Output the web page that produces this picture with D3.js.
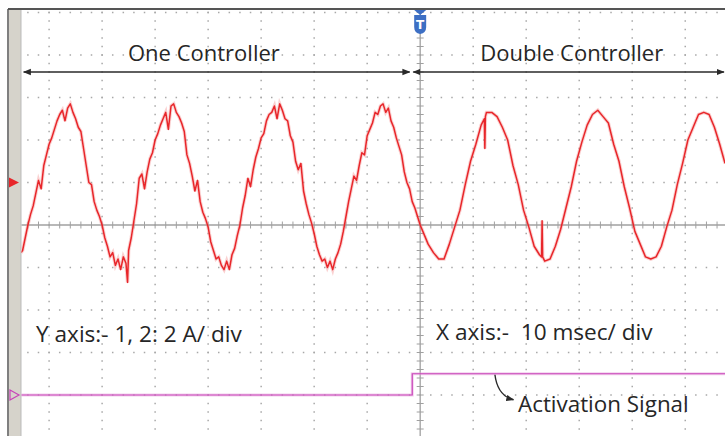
<!DOCTYPE html>
<html lang="en">
<head>
<meta charset="UTF-8">
<title>Controller activation - scope capture</title>
<script src="https://d3js.org/d3.v7.min.js"></script>
<style>
  body { margin: 0; background: #fff; }
  svg { display: block; font-family: "Open Sans", sans-serif; }
</style>
</head>
<body>
<div id="chart"></div>
<script>
// channel 1 current (A), time in ms from trigger
var oneCtrlTime = [-75.3, -75, -74.5, -74, -73.5, -73, -72.5, -72, -71.5, -71, -70.5, -70, -69.5, -69, -68.5, -68, -67.5, -67, -66.5, -66,
    -65.5, -65, -64.5, -64, -63.5, -63, -62.5, -62, -61.5, -61, -60.5, -60, -59.5, -59, -58.5, -58, -57.5, -57, -56.5, -56,
    -55.5, -55.2, -55, -54.5, -54, -53.5, -53, -52.5, -52, -51.5, -51, -50.5, -50, -49.5, -49, -48.5, -48, -47.5, -47, -46.5,
    -46, -45.5, -45, -44.5, -44, -43.5, -43, -42.5, -42, -41.5, -41, -40.5, -40, -39.5, -39, -38.5, -38, -37.5, -37, -36.5,
    -36, -35.5, -35, -34.5, -34, -33.5, -33, -32.5, -32, -31.5, -31, -30.5, -30, -29.5, -29, -28.5, -28, -27.5, -27, -26.5,
    -26, -25.5, -25, -24.5, -24, -23.5, -23, -22.5, -22, -21.5, -21, -20.5, -20, -19.5, -19, -18.5, -18, -17.5, -17, -16.5,
    -16, -15.5, -15, -14.5, -14, -13.5, -13, -12.5, -12, -11.5, -11, -10.5, -10, -9.5, -9, -8.5, -8, -7.5, -7, -6.5,
    -6, -5.5, -5, -4.5, -4, -3.5, -3, -2.5, -2, -1.5, -1, -0.5, 0];
var oneCtrlAmps = [-3.3, -3.2, -2.6, -2.0, -1.5, -1.1, -0.5, 0.1, -0.3, 0.8, 1.3, 1.8, 2.1, 2.5, 2.9, 3.2, 3.4, 2.9, 3.5, 3.7,
    3.3, 3.0, 2.6, 2.4, 1.6, 0.8, 0.0, -0.1, -0.9, -1.3, -1.6, -2.0, -2.6, -3.0, -3.5, -3.3, -3.9, -3.6, -4.1, -3.5,
    -3.8, -4.7, -3.2, -2.6, -1.8, -1.0, 0.2, 0.4, -0.3, 0.5, 1.1, 1.4, 2.0, 2.3, 2.7, 3.0, 3.3, 2.5, 3.6, 3.7,
    3.3, 3.1, 2.8, 2.4, 1.3, 0.9, 0.3, -0.4, 0.1, -0.9, -1.4, -1.7, -2.1, -2.8, -3.2, -3.6, -3.5, -3.9, -4.1, -3.7,
    -4.1, -3.4, -3.1, -2.5, -2.0, -1.2, -0.6, 0.2, -0.2, 0.6, 1.2, 1.6, 2.1, 2.3, 2.9, 3.2, 3.3, 3.6, 3.0, 3.7,
    3.4, 3.0, 2.9, 2.2, 1.9, 1.0, 0.6, 0.9, -0.4, -1.0, -1.5, -1.9, -2.4, -3.0, -3.4, -3.7, -3.6, -4.0, -3.7, -4.1,
    -3.6, -3.3, -2.9, -2.3, -1.6, -0.9, -0.3, 0.3, 0.1, 0.8, 1.4, 1.3, 2.2, 2.5, 2.8, 3.3, 3.2, 3.6, 3.7, 3.3,
    3.5, 2.9, 2.6, 2.1, 1.7, 1.3, 0.5, 0.0, -0.3, -0.9, -1.2, -1.6, -2.0];

var doubleCtrlTime = [0.5, 1.5, 2.5, 3.5, 4.5, 5.5, 6.5, 7.5, 8.5, 9.5, 10.5, 11.5, 12.1, 12.2, 12.3, 12.5, 13.5, 14.5, 15.5, 16.5,
    17.5, 18.5, 19.5, 20.5, 21.5, 22.5, 22.9, 23.0, 23.1, 23.5, 24.5, 25.5, 26.5, 27.5, 28.5, 29.5, 30.5, 31.5, 32.5, 33.5,
    34.5, 35.5, 36.5, 37.5, 38.5, 39.5, 40.5, 41.5, 42.5, 43.5, 44.5, 45.5, 46.5, 47.5, 48.5, 49.5, 50.5, 51.5, 52.5, 53.5,
    54.5, 55.5, 56.5, 57.5];
var doubleCtrlAmps = [-2.3, -2.9, -3.3, -3.6, -3.6, -2.9, -2.1, -1.3, -0.1, 1.0, 1.8, 2.7, 3.0, 1.6, 3.1, 3.3, 3.3, 3.1, 2.6, 2.0,
    0.8, -0.1, -1.3, -2.1, -3.0, -3.4, -3.5, -1.8, -3.5, -3.7, -3.6, -3.0, -2.2, -1.2, -0.2, 1.0, 1.9, 2.7, 3.2, 3.4,
    3.1, 2.8, 1.8, 1.0, -0.2, -1.2, -2.3, -2.9, -3.5, -3.6, -3.5, -3.0, -2.1, -1.3, -0.1, 0.9, 2.0, 2.6, 3.2, 3.3,
    3.2, 2.6, 1.8, 0.9];

// channel 2 activation signal
var actTime = [-75.3, -1.5, -1.5, 57.5];
var actLevel = [0, 0, 1.0, 1.0];

var sectionLabels = ["One Controller", "Double Controller"];
var scaleNotes = ["Y axis:- 1, 2: 2 A/ div", "X axis:-  10 msec/ div"];
var signalNote = "Activation Signal";

var W = 725, H = 436;
var svg = d3.select("#chart").append("svg")
    .attr("width", W)
    .attr("height", H);

var x = d3.scaleLinear().domain([-75.3, 57.5]).range([21, 725]);
var div = d3.scaleLinear().domain([-5, 5]).range([437.5, 12.5]);
var ch1 = function(a) { return div(1 + a / 2); };
var ch2 = function(a) { return div(-4 + a / 2); };

svg.append("rect").attr("width", W).attr("height", H).attr("fill", "#fff");

// scope frame
svg.append("rect").attr("x", 9).attr("y", 10).attr("width", 12).attr("height", H - 10).attr("fill", "#d6d3cb");
svg.append("line").attr("x1", 8).attr("x2", W).attr("y1", 9).attr("y2", 9).attr("stroke", "#555").attr("stroke-width", 2);
svg.append("line").attr("x1", 8).attr("x2", 8).attr("y1", 9).attr("y2", H).attr("stroke", "#555").attr("stroke-width", 1.5);
svg.append("line").attr("x1", 21).attr("x2", 21).attr("y1", 10).attr("y2", H).attr("stroke", "#bbb").attr("stroke-width", 1);

svg.append("defs").append("clipPath").attr("id", "plotclip")
    .append("rect").attr("x", 21.5).attr("y", 10).attr("width", W - 21.5).attr("height", H - 10);

var g = svg.append("g").attr("clip-path", "url(#plotclip)");

// dotted graticule
var majorT = d3.range(-70, 51, 10).filter(function(t) { return t !== 0; });
var majorD = d3.range(-5, 5.01, 1).filter(function(d) { return d !== 0; });
var minorT = d3.range(-74, 58, 2);
var minorD = d3.range(-5, 5.01, 0.2);
var dots = [];
majorT.forEach(function(t) { minorD.forEach(function(d) { dots.push([t, d]); }); });
majorD.forEach(function(d) { minorT.forEach(function(t) { dots.push([t, d]); }); });
g.selectAll(".dot").data(dots).enter().append("rect")
    .attr("class", "dot")
    .attr("x", function(d) { return x(d[0]) - 0.75; })
    .attr("y", function(d) { return div(d[1]) - 0.75; })
    .attr("width", 1.5).attr("height", 1.5)
    .attr("fill", "#a8a8a8");

// centre axes with minor ticks
g.append("line").attr("x1", x(0)).attr("x2", x(0)).attr("y1", 10).attr("y2", H)
    .attr("stroke", "#a0a0a0").attr("stroke-width", 1.3);
g.append("line").attr("x1", 21).attr("x2", W).attr("y1", div(0)).attr("y2", div(0))
    .attr("stroke", "#a0a0a0").attr("stroke-width", 1.3);
g.selectAll(".tx").data(minorT).enter().append("line")
    .attr("x1", function(d) { return x(d); }).attr("x2", function(d) { return x(d); })
    .attr("y1", div(0) - 3.5).attr("y2", div(0) + 3.5)
    .attr("stroke", "#a0a0a0").attr("stroke-width", 1);
g.selectAll(".ty").data(minorD).enter().append("line")
    .attr("x1", x(0) - 3.5).attr("x2", x(0) + 3.5)
    .attr("y1", function(d) { return div(d); }).attr("y2", function(d) { return div(d); })
    .attr("stroke", "#a0a0a0").attr("stroke-width", 1);

// traces
var trace = oneCtrlTime.map(function(t, i) { return [t, oneCtrlAmps[i]]; })
    .concat(doubleCtrlTime.map(function(t, i) { return [t, doubleCtrlAmps[i]]; }));
var line1 = d3.line().x(function(d) { return x(d[0]); }).y(function(d) { return ch1(d[1]); });
g.append("path").datum(trace).attr("d", line1)
    .attr("fill", "none").attr("stroke", "#f07a7a").attr("stroke-width", 3.5).attr("opacity", 0.35);
g.append("path").datum(trace).attr("d", line1)
    .attr("fill", "none").attr("stroke", "#e8262a").attr("stroke-width", 1.5).attr("stroke-linejoin", "round");

var act = actTime.map(function(t, i) { return [t, actLevel[i]]; });
var line2 = d3.line().x(function(d) { return x(d[0]); }).y(function(d) { return ch2(d[1]); });
g.append("path").datum(act).attr("d", line2)
    .attr("fill", "none").attr("stroke", "#e6a0dc").attr("stroke-width", 3).attr("opacity", 0.5);
g.append("path").datum(act).attr("d", line2)
    .attr("fill", "none").attr("stroke", "#c843b8").attr("stroke-width", 1.2);

// channel ground markers
svg.append("path")
    .attr("d", "M9," + (ch1(0) - 5) + "L19," + ch1(0) + "L9," + (ch1(0) + 5) + "Z")
    .attr("fill", "#e8262a");
svg.append("path")
    .attr("d", "M10," + (ch2(0) - 5) + "L19," + ch2(0) + "L10," + (ch2(0) + 5) + "Z")
    .attr("fill", "none").attr("stroke", "#c843b8").attr("stroke-width", 1.2);

// trigger marker
var tx = x(0);
svg.append("path").attr("d", "M" + (tx - 6) + ",10L" + (tx + 6) + ",10L" + tx + ",15Z").attr("fill", "#3d6fc4");
svg.append("path")
    .attr("d", "M" + (tx - 6) + ",15H" + (tx + 6) + "V27Q" + (tx + 6) + ",33 " + tx + ",34Q" + (tx - 6) + ",33 " + (tx - 6) + ",27Z")
    .attr("fill", "#3d6fc4");
svg.append("text").attr("x", tx).attr("y", 29).attr("text-anchor", "middle")
    .attr("font-size", 12).attr("font-weight", "bold").attr("fill", "#fff")
    .style("font-family", "DejaVu Sans, sans-serif").text("T");

// section arrows
var defs = svg.select("defs");
defs.append("marker").attr("id", "head")
    .attr("viewBox", "0 0 10 10").attr("refX", 9).attr("refY", 5)
    .attr("markerWidth", 8).attr("markerHeight", 8).attr("markerUnits", "userSpaceOnUse")
    .attr("orient", "auto-start-reverse")
    .append("path").attr("d", "M0,1L10,5L0,9Z").attr("fill", "#2a2a2a");

var arrowY = 72;
var spans = [[-74.8, -2.0], [-1.3, 57.3]];
svg.selectAll(".span").data(spans).enter().append("line")
    .attr("x1", function(d) { return x(d[0]); }).attr("x2", function(d) { return x(d[1]); })
    .attr("y1", arrowY).attr("y2", arrowY)
    .attr("stroke", "#2a2a2a").attr("stroke-width", 1.4)
    .attr("marker-start", "url(#head)").attr("marker-end", "url(#head)");

svg.selectAll(".lab").data(sectionLabels).enter().append("text")
    .attr("x", function(d, i) { return i === 0 ? x(-40.8) : x(28.6); })
    .attr("y", 61)
    .attr("text-anchor", "middle")
    .attr("font-size", 22)
    .attr("fill", "#262626")
    .text(function(d) { return d; });

svg.selectAll(".note").data(scaleNotes).enter().append("text")
    .attr("x", function(d, i) { return i === 0 ? 36 : 436; })
    .attr("y", function(d, i) { return i === 0 ? 342 : 340; })
    .attr("font-size", 22.6)
    .attr("fill", "#262626")
    .style("white-space", "pre")
    .text(function(d) { return d; });

// pointer to the activation signal
svg.append("path")
    .attr("d", "M" + x(14.1) + "," + (ch2(1) + 1) + "Q" + x(14.6) + "," + (ch2(1) + 22) + " " + x(17.6) + "," + (ch2(1) + 26))
    .attr("fill", "none").attr("stroke", "#2a2a2a").attr("stroke-width", 1.4)
    .attr("marker-end", "url(#head)");
svg.append("text").attr("x", 518).attr("y", 412)
    .attr("font-size", 22.4).attr("fill", "#262626")
    .text(signalNote);
</script>
</body>
</html>
